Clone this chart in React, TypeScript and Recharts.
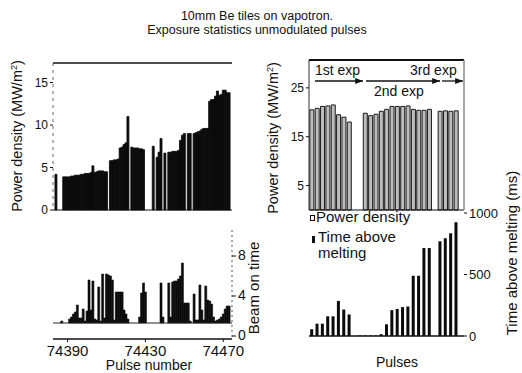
import React from 'react';
import { BarChart, Bar, XAxis, YAxis, ReferenceLine } from 'recharts';

// ---------- data ----------
const firstPulse = 74383;
const pulseTicks = [74390, 74430, 74470];

// Left top: power density (MW/m2) per pulse, pulses 74383 .. 74474
const powerDensityLeft = [
  0, 4.2, 0, 0, 0, 3.9, 3.9, 3.9, 3.9, 4.0,
  4.0, 4.1, 4.1, 4.1, 4.2, 4.2, 4.3, 4.3, 4.3, 4.4,
  5.2, 4.4, 4.5, 4.6, 4.6, 4.6, 4.5, 4.5, 0, 5.8,
  5.8, 5.9, 5.9, 6.0, 7.3, 7.4, 7.7, 7.9, 11.0, 0,
  7.4, 7.3, 7.3, 7.3, 7.2, 7.2, 7.1, 0, 0, 0,
  0, 7.5, 0, 6.2, 6.8, 8.4, 0, 6.7, 0, 6.8,
  6.8, 6.9, 6.9, 6.9, 7.0, 8.2, 8.8, 9.0, 0, 9.0,
  9.0, 0, 9.0, 9.1, 9.2, 9.3, 9.5, 9.6, 9.6, 9.6,
  12.8, 13.0, 13.0, 13.4, 14.0, 13.5, 13.6, 14.1, 14.1, 13.8,
  13.8, 0,
];

// Left bottom: beam on time per pulse (null = no pulse)
const beamOnTime: (number | null)[] = [
  null, null, null, null, 1.5, null, null, null, 1.7, 1.9,
  2.2, 2.4, 3.1, 1.8, 1.8, 2.7, 1.5, 2.5, 5.6, 2.6,
  5.5, 1.7, 1.6, 4.9, 1.5, 6.2, 1.8, 6.2, 6.1, 6.0,
  5.6, 1.6, 4.4, 4.4, 4.4, 4.4, 2.6, 2.2, 1.7, null,
  null, null, null, null, 1.9, 4.3, 5.3, 4.4, null, null,
  null, null, null, null, null, 5.3, 1.9, null, null, 5.3,
  1.9, 5.4, 5.5, 5.5, 5.7, 6.0, 7.3, 3.3, 3.3, 3.3,
  1.5, null, 4.2, 1.6, 1.6, 5.1, 2.6, 1.6, 5.0, 3.6,
  3.5, 3.2, 1.9, 1.5, 1.6, 1.7, 1.9, 2.2, 2.7, 3.0,
  3.0, null,
];
const beamFloor = 1.3;

// Right panels: 29 pulse slots
const slotLabels = [
  's1', 's2', 's3', 's4', 's5', 's6', 's7', 's8', 's9', 's10',
  's11', 's12', 's13', 's14', 's15', 's16', 's17', 's18', 's19', 's20',
  's21', 's22', 's23', 's24', 's25', 's26', 's27', 's28', 's29',
];
const powerDensityRight: (number | null)[] = [
  20.5, 20.8, 21.2, 21.3, 21.5, 19.5, 19.0, 18.0, null, null,
  19.8, 19.3, 19.6, 20.2, 20.6, 21.2, 21.2, 21.2, 21.3, 20.6,
  20.4, 20.4, 20.6, null, 20.2, 20.3, 20.2, 20.3, null,
];
const timeAboveMelting: (number | null)[] = [
  55, 100, 100, 160, 160, 285, 215, 175, null, 4,
  4, 4, 4, 15, 95, 210, 220, 235, 240, 490,
  490, 715, 715, null, 770, 795, 835, 925, null,
];

const leftPdTicks = [0, 5, 10, 15];
const beamTicks = [0, 4, 8];
const rightPdTicks = [5, 15, 25];
const tamTicks = [0, 500, 1000];

// ---------- layout ----------
const W = 522;
const H = 373;
const FONT = '"Liberation Sans", Arial, Helvetica, sans-serif';
const INK = '#111';

const layer: React.CSSProperties = { position: 'absolute', left: 0, top: 0 };

export default function App() {
  const leftData = powerDensityLeft.map((v, i) => ({
    pulse: firstPulse + i,
    pd: v,
    beam: beamOnTime[i] == null ? null : [beamFloor, beamOnTime[i] as number],
  }));
  const rightData = slotLabels.map((s, i) => ({
    slot: s,
    pd: powerDensityRight[i],
    tam: timeAboveMelting[i],
  }));

  return (
    <div
      style={{
        position: 'fixed',
        left: 0,
        top: 0,
        width: W,
        height: H,
        background: '#fff',
        fontFamily: FONT,
        overflow: 'hidden',
      }}
    >
      {/* left top: power density */}
      <div style={layer}>
        <BarChart
          width={W}
          height={H}
          data={leftData}
          margin={{ top: 63, right: 290, bottom: 163, left: 23 }}
          barCategoryGap={0}
          barGap={0}
        >
          <XAxis dataKey="pulse" hide />
          <YAxis
            width={30}
            domain={[0, 17.3]}
            ticks={leftPdTicks}
            tick={{ fontSize: 12, fill: INK, fontFamily: FONT }}
            tickSize={3}
            tickLine={{ stroke: INK }}
            axisLine={{ stroke: '#666', strokeDasharray: '3 4' }}
          />
          <ReferenceLine y={17.3} stroke={INK} strokeWidth={1.6} />
          <Bar
            dataKey="pd"
            fill="#0b0b0b"
            stroke="#0b0b0b"
            strokeWidth={0.8}
            isAnimationActive={false}
          />
          <ReferenceLine y={0} stroke={INK} strokeWidth={1.2} />
        </BarChart>
      </div>

      {/* left bottom: beam on time */}
      <div style={layer}>
        <BarChart
          width={W}
          height={H}
          data={leftData}
          margin={{ top: 230, right: 270, bottom: 14, left: 53 }}
          barCategoryGap={0}
          barGap={0}
        >
          <XAxis
            dataKey="pulse"
            ticks={pulseTicks}
            interval={0}
            height={20}
            tick={{ fontSize: 15, fill: INK, fontFamily: FONT, dy: 1 }}
            tickSize={3}
            tickLine={{ stroke: INK }}
            axisLine={{ stroke: INK, strokeWidth: 1.5 }}
          />
          <YAxis
            yAxisId="l"
            orientation="left"
            width={0}
            tick={false}
            domain={[-0.3, 10.6]}
            axisLine={{ stroke: '#999', strokeDasharray: '2 4' }}
          />
          <YAxis
            orientation="right"
            width={20}
            domain={[-0.3, 10.6]}
            ticks={beamTicks}
            tick={{ fontSize: 14, fill: INK, fontFamily: FONT, dy: -1 }}
            tickSize={4}
            tickLine={{ stroke: INK }}
            axisLine={{ stroke: '#555', strokeDasharray: '2 3' }}
          />
          <ReferenceLine y={beamFloor} stroke="#222" strokeWidth={1} />
          <Bar
            dataKey="beam"
            fill="#0b0b0b"
            stroke="#0b0b0b"
            strokeWidth={0.6}
            isAnimationActive={false}
          />
        </BarChart>
      </div>

      {/* right top: power density */}
      <div style={layer}>
        <BarChart
          width={W}
          height={H}
          data={rightData}
          margin={{ top: 60, right: 57, bottom: 163, left: 279 }}
          barCategoryGap="16%"
        >
          <XAxis dataKey="slot" hide />
          <YAxis
            width={30}
            domain={[0, 30.7]}
            ticks={rightPdTicks}
            tick={{ fontSize: 12, fill: INK, fontFamily: FONT }}
            tickSize={3}
            tickLine={{ stroke: INK }}
            axisLine={{ stroke: '#333' }}
          />
          <YAxis
            yAxisId="r"
            orientation="right"
            width={1}
            tick={false}
            domain={[0, 30.7]}
            axisLine={{ stroke: '#888', strokeWidth: 1.5 }}
          />
          <ReferenceLine y={30.7} stroke={INK} strokeWidth={2} />
          <Bar
            dataKey="pd"
            fill="#bdbdbd"
            stroke="#1a1a1a"
            strokeWidth={1}
            isAnimationActive={false}
          />
          <ReferenceLine y={0} stroke={INK} strokeWidth={1.2} />
        </BarChart>
      </div>

      {/* right bottom: time above melting */}
      <div style={layer}>
        <BarChart
          width={W}
          height={H}
          data={rightData}
          margin={{ top: 213, right: 18, bottom: 37, left: 309 }}
          barCategoryGap="22%"
        >
          <XAxis dataKey="slot" hide />
          <YAxis
            orientation="right"
            width={40}
            domain={[0, 1000]}
            ticks={tamTicks}
            tick={{ fontSize: 13, fill: INK, fontFamily: FONT }}
            tickSize={3}
            tickLine={{ stroke: INK }}
            axisLine={false}
          />
          <Bar dataKey="tam" fill="#0b0b0b" isAnimationActive={false} />
          <ReferenceLine y={0} stroke={INK} strokeWidth={1.5} />
        </BarChart>
      </div>

      {/* texts and annotations */}
      <svg width={W} height={H} style={{ ...layer, pointerEvents: 'none' }} fontFamily={FONT}>
        <defs>
          <marker id="arr" viewBox="0 0 10 10" refX="10" refY="5" markerWidth="6" markerHeight="6" orient="auto">
            <path d="M0,1 L10,5 L0,9 z" fill={INK} />
          </marker>
        </defs>
        <text x={257} y={19.5} textAnchor="middle" fontSize={12.5} fill={INK}>
          10mm Be tiles on vapotron.
        </text>
        <text x={257} y={33.5} textAnchor="middle" fontSize={12.5} fill={INK}>
          Exposure statistics unmodulated pulses
        </text>

        <text transform="translate(22,136) rotate(-90)" textAnchor="middle" fontSize={14.5} fill={INK}>
          Power density (MW/m<tspan dy={-5} fontSize={9}>2</tspan><tspan dy={5}>)</tspan>
        </text>
        <text transform="translate(259,288) rotate(-90)" textAnchor="middle" fontSize={15} fill={INK}>
          Beam on time
        </text>
        <text x={149} y={370} textAnchor="middle" fontSize={14} fill={INK}>
          Pulse number
        </text>

        <text transform="translate(278,138) rotate(-90)" textAnchor="middle" fontSize={14.5} fill={INK}>
          Power density (MW/m<tspan dy={-5} fontSize={9}>2</tspan><tspan dy={5}>)</tspan>
        </text>
        <text transform="translate(517,253) rotate(-90)" textAnchor="middle" fontSize={15} fill={INK}>
          Time above melting (ms)
        </text>
        <text x={397} y={367} textAnchor="middle" fontSize={14} fill={INK}>
          Pulses
        </text>

        <text x={315} y={75} fontSize={14} fill={INK}>1st exp</text>
        <text x={410} y={75} fontSize={14} fill={INK}>3rd exp</text>
        <text x={374} y={96} fontSize={14} fill={INK}>2nd exp</text>
        <line x1={315} y1={81} x2={363} y2={81} stroke={INK} strokeWidth={1.3} markerEnd="url(#arr)" />
        <line x1={366} y1={81} x2={440} y2={81} stroke={INK} strokeWidth={1.3} markerEnd="url(#arr)" />
        <line x1={442} y1={81} x2={463} y2={81} stroke={INK} strokeWidth={1.3} markerEnd="url(#arr)" />

        <rect x={310.5} y={215.5} width={4} height={5} fill="#fff" stroke={INK} strokeWidth={1} />
        <text x={316} y={222} fontSize={15} fill={INK}>Power density</text>
        <rect x={312} y={236} width={3} height={7} fill={INK} />
        <text x={318} y={242} fontSize={15} fill={INK}>Time above</text>
        <text x={318} y={258} fontSize={15} fill={INK}>melting</text>
      </svg>
    </div>
  );
}
